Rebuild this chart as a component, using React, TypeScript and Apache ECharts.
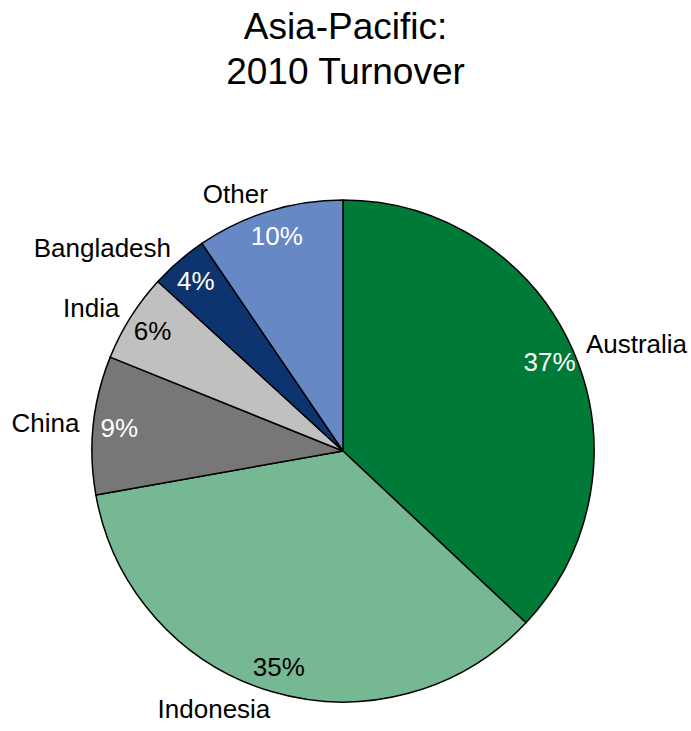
import React, { useEffect, useRef } from "react";
import * as echarts from "echarts";

const titleText = "Asia-Pacific:\n2010 Turnover";
const categories = ["Australia", "Indonesia", "China", "India", "Bangladesh", "Other"];
const shares = [37.0, 35.2, 8.9, 5.7, 3.7, 9.5];
const colors = ["#007A37", "#76B893", "#777777", "#C0C0C0", "#0D346F", "#6688C4"];
const pctColors = ["#ffffff", "#000000", "#ffffff", "#000000", "#ffffff", "#ffffff"];

const FONT = "Liberation Sans, Arial, sans-serif";

export default function App() {
  const ref = useRef<HTMLDivElement>(null);
  useEffect(() => {
    if (!ref.current) return;
    const chart = echarts.init(ref.current, null, { renderer: "svg" });
    const base = categories.map((name, i) => ({
      name,
      value: shares[i],
      itemStyle: { color: colors[i] },
    }));
    const pct = categories.map((name, i) => ({
      name,
      value: shares[i],
      label: { color: pctColors[i] },
    }));
    chart.setOption({
      animation: false,
      backgroundColor: "#ffffff",
      title: {
        text: titleText,
        left: "center",
        top: -1,
        padding: [5, 0, 5, 14],
        textStyle: {
          fontFamily: FONT,
          fontSize: 37,
          fontWeight: "normal",
          color: "#000",
          lineHeight: 45,
        },
      },
      series: [
        {
          type: "pie",
          center: [343, 451],
          radius: [0, 251],
          startAngle: 90,
          clockwise: true,
          avoidLabelOverlap: false,
          silent: true,
          data: base,
          itemStyle: { borderColor: "#000", borderWidth: 1.5 },
          label: {
            show: true,
            position: "outside",
            formatter: "{b}",
            fontFamily: FONT,
            fontSize: 26,
            color: "#000",
            distanceToLabelLine: -4,
          },
          labelLine: { show: false, length: 18, length2: 0 },
        },
        {
          type: "pie",
          center: [343, 451],
          radius: [190, 254],
          startAngle: 90,
          clockwise: true,
          avoidLabelOverlap: false,
          silent: true,
          data: pct,
          itemStyle: { color: "rgba(0,0,0,0)", borderWidth: 0 },
          label: {
            show: true,
            position: "inside",
            formatter: (p: any) => Math.round(p.value) + "%",
            fontFamily: FONT,
            fontSize: 26,
          },
          labelLine: { show: false },
        },
      ],
    });
    return () => chart.dispose();
  }, []);
  return (
    <div
      ref={ref}
      style={{ position: "fixed", left: 0, top: 0, width: 691, height: 731 }}
    />
  );
}
